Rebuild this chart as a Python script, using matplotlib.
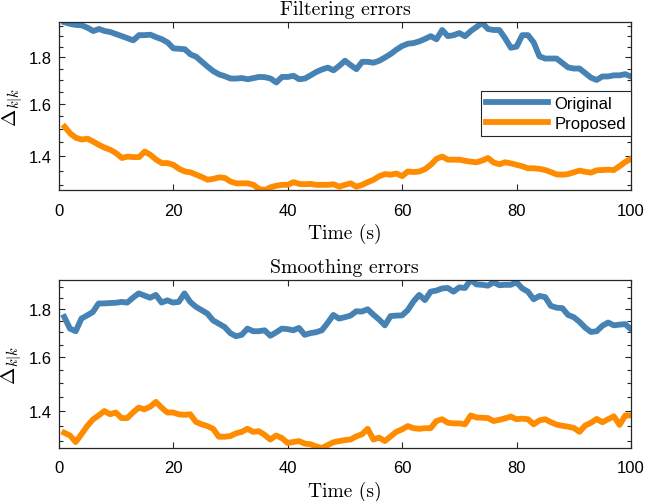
import numpy as np
import matplotlib
matplotlib.use("Agg")
import matplotlib.pyplot as plt
from matplotlib.ticker import FixedLocator, FormatStrFormatter, NullFormatter

plt.rcParams['font.family'] = ['Liberation Sans', 'DejaVu Sans']
plt.rcParams['mathtext.fontset'] = 'cm'

t = np.arange(1, 101)

# filtering errors
filt_original = [
    1.968, 1.960, 1.955, 1.953, 1.941, 1.925, 1.935, 1.925, 1.920, 1.910,
    1.900, 1.890, 1.880, 1.905, 1.905, 1.907, 1.895, 1.885, 1.870, 1.842,
    1.840, 1.838, 1.814, 1.803, 1.780, 1.758, 1.738, 1.724, 1.716, 1.706,
    1.706, 1.708, 1.703, 1.708, 1.713, 1.712, 1.706, 1.689, 1.713, 1.713,
    1.718, 1.703, 1.706, 1.720, 1.735, 1.746, 1.754, 1.742, 1.762, 1.785,
    1.765, 1.747, 1.780, 1.780, 1.776, 1.785, 1.800, 1.816, 1.836, 1.853,
    1.864, 1.867, 1.875, 1.887, 1.900, 1.885, 1.930, 1.900, 1.905, 1.915,
    1.900, 1.925, 1.945, 1.965, 1.935, 1.930, 1.930, 1.890, 1.845, 1.850,
    1.905, 1.905, 1.870, 1.805, 1.795, 1.795, 1.795, 1.775, 1.755, 1.750,
    1.750, 1.730, 1.710, 1.700, 1.715, 1.715, 1.720, 1.720, 1.725, 1.715,
]
filt_proposed = [
    1.509, 1.483, 1.467, 1.461, 1.464, 1.453, 1.441, 1.431, 1.423, 1.411,
    1.394, 1.399, 1.397, 1.397, 1.417, 1.405, 1.388, 1.376, 1.376, 1.370,
    1.356, 1.347, 1.344, 1.336, 1.328, 1.319, 1.322, 1.327, 1.325, 1.313,
    1.307, 1.307, 1.307, 1.302, 1.288, 1.285, 1.294, 1.299, 1.302, 1.302,
    1.311, 1.305, 1.304, 1.305, 1.302, 1.302, 1.302, 1.304, 1.296, 1.302,
    1.307, 1.296, 1.302, 1.311, 1.319, 1.331, 1.338, 1.336, 1.340, 1.331,
    1.347, 1.345, 1.347, 1.355, 1.370, 1.391, 1.399, 1.388, 1.388, 1.388,
    1.384, 1.381, 1.379, 1.385, 1.394, 1.378, 1.372, 1.379, 1.375, 1.370,
    1.365, 1.358, 1.358, 1.356, 1.352, 1.345, 1.337, 1.336, 1.338, 1.344,
    1.350, 1.346, 1.343, 1.351, 1.352, 1.353, 1.352, 1.365, 1.380, 1.391,
]

# smoothing errors
smooth_original = [
    1.766, 1.716, 1.705, 1.759, 1.773, 1.788, 1.826, 1.826, 1.828, 1.829,
    1.833, 1.830, 1.852, 1.872, 1.862, 1.852, 1.865, 1.830, 1.840, 1.830,
    1.833, 1.872, 1.833, 1.811, 1.796, 1.781, 1.751, 1.737, 1.723, 1.697,
    1.684, 1.690, 1.716, 1.705, 1.705, 1.709, 1.686, 1.700, 1.716, 1.714,
    1.709, 1.719, 1.690, 1.697, 1.701, 1.709, 1.740, 1.775, 1.759, 1.765,
    1.772, 1.791, 1.790, 1.800, 1.776, 1.755, 1.730, 1.770, 1.772, 1.773,
    1.796, 1.835, 1.865, 1.841, 1.880, 1.885, 1.895, 1.897, 1.880, 1.900,
    1.897, 1.935, 1.914, 1.912, 1.908, 1.924, 1.910, 1.912, 1.912, 1.924,
    1.895, 1.880, 1.845, 1.860, 1.855, 1.815, 1.807, 1.805, 1.775, 1.765,
    1.745, 1.720, 1.702, 1.705, 1.728, 1.742, 1.730, 1.733, 1.735, 1.713,
]
smooth_proposed = [
    1.327, 1.318, 1.297, 1.322, 1.349, 1.371, 1.385, 1.400, 1.389, 1.395,
    1.376, 1.376, 1.395, 1.412, 1.406, 1.415, 1.432, 1.412, 1.395, 1.395,
    1.389, 1.387, 1.389, 1.363, 1.355, 1.349, 1.340, 1.314, 1.314, 1.316,
    1.325, 1.330, 1.340, 1.330, 1.332, 1.320, 1.305, 1.318, 1.310, 1.294,
    1.297, 1.300, 1.292, 1.290, 1.283, 1.278, 1.287, 1.296, 1.300, 1.303,
    1.305, 1.315, 1.322, 1.340, 1.305, 1.311, 1.300, 1.315, 1.330, 1.338,
    1.349, 1.342, 1.340, 1.342, 1.342, 1.366, 1.372, 1.360, 1.358, 1.358,
    1.355, 1.385, 1.378, 1.377, 1.376, 1.366, 1.370, 1.375, 1.381, 1.372,
    1.374, 1.372, 1.355, 1.368, 1.372, 1.362, 1.354, 1.350, 1.347, 1.343,
    1.330, 1.351, 1.360, 1.373, 1.362, 1.372, 1.382, 1.353, 1.385, 1.385,
]

blue = '#4682B4'
orange = '#FF8C00'
axcol = '#262626'

fig = plt.figure(figsize=(6.46, 5.02), dpi=100)
ax1 = fig.add_axes([0.0913, 0.6195, 0.8854, 0.334])
ax2 = fig.add_axes([0.0906, 0.1056, 0.8862, 0.3347])


def style(ax, orig, prop, title):
    ax.plot(t, orig, color=blue, lw=4.2, label='Original', solid_joinstyle='round')
    ax.plot(t, prop, color=orange, lw=4.2, label='Proposed', solid_joinstyle='round')
    ax.set_yscale('log')
    ax.set_xlim(0, 100)
    ax.set_ylim(min(min(orig), min(prop)), max(max(orig), max(prop)))
    ax.set_xticks([0, 20, 40, 60, 80, 100])
    ax.yaxis.set_major_locator(FixedLocator([1.4, 1.6, 1.8]))
    ax.yaxis.set_major_formatter(FormatStrFormatter('%.1f'))
    ax.yaxis.set_minor_locator(FixedLocator(np.arange(1.25, 2.0, 0.05)))
    ax.yaxis.set_minor_formatter(NullFormatter())
    ax.tick_params(which='both', direction='in', top=True, right=True,
                   color=axcol, labelsize=12)
    ax.tick_params(which='major', length=4.5, width=0.8)
    ax.tick_params(which='minor', length=3, width=0.8)
    ax.tick_params(axis='x', pad=9)
    ax.tick_params(axis='y', pad=5)
    for s in ax.spines.values():
        s.set_color(axcol)
        s.set_linewidth(0.9)
    ax.set_title(title, fontfamily='cmr10', fontsize=14.3, pad=6)
    ax.set_xlabel('Time (s)', fontfamily='cmr10', fontsize=14, labelpad=4)
    ax.set_ylabel(r'$\Delta_{k|k}$', fontsize=15, labelpad=3)


style(ax1, filt_original, filt_proposed, 'Filtering errors')
style(ax2, smooth_original, smooth_proposed, 'Smoothing errors')

leg = ax1.legend(loc='upper right', bbox_to_anchor=(1.0, 0.589), borderaxespad=0,
                 fontsize=12, fancybox=False, framealpha=1, edgecolor=axcol,
                 handlelength=3.7, handletextpad=0.4, labelspacing=0.3,
                 borderpad=0.3)
leg.get_frame().set_linewidth(0.8)

fig.savefig('out.png', dpi=100)
